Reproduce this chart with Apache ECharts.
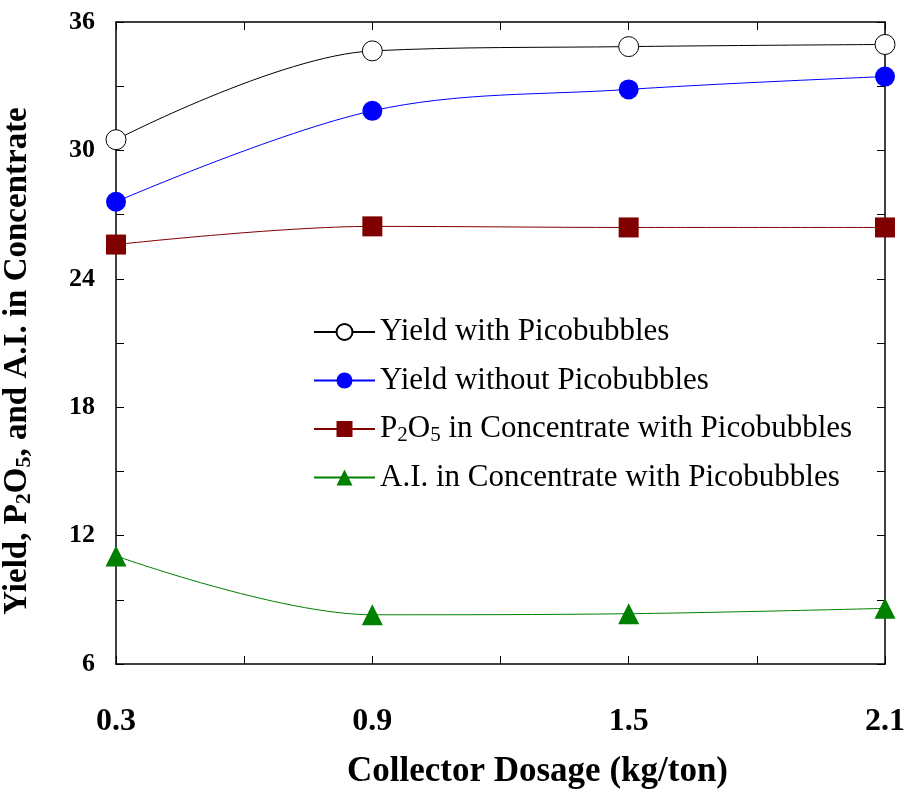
<!DOCTYPE html>
<html>
<head>
<meta charset="utf-8">
<script src="https://cdn.jsdelivr.net/npm/echarts@6/dist/echarts.min.js"></script>
<style>
  html, body { margin: 0; padding: 0; background: #fff; }
  #chart { width: 908px; height: 789px; }
</style>
</head>
<body>
<div id="chart"></div>
<script>
// Collector dosage (kg/ton)
const dosage = [0.3, 0.9, 1.5, 2.1];
// Yield with picobubbles (%)
const yieldWith = [30.5, 34.65, 34.85, 34.95];
// Yield without picobubbles (%)
const yieldWithout = [27.6, 31.85, 32.85, 33.45];
// P2O5 grade in concentrate with picobubbles (%)
const p2o5 = [25.6, 26.45, 26.4, 26.4];
// Acid-insoluble content in concentrate with picobubbles (%)
const acidInsol = [11.05, 8.3, 8.35, 8.6];

const xTickLabels = ['0.3', '0.9', '1.5', '2.1'];
const yTickLabels = ['6', '12', '18', '24', '30', '36'];

const serif = '"Liberation Serif", "Times New Roman", serif';

function pairs(ys) { return dosage.map((x, i) => [x, ys[i]]); }

const chart = echarts.init(document.getElementById('chart'));

const axisLine = { show: true, lineStyle: { color: '#000', width: 1.5 } };
const axisTick = { show: true, inside: true, length: 8, lineStyle: { color: '#000', width: 1 } };

chart.setOption({
  animation: false,
  backgroundColor: '#fff',
  grid: { left: 116, right: 23, top: 22, bottom: 125, containLabel: false, outerBoundsMode: 'none' },
  legend: {
    left: 308,
    top: 310,
    orient: 'vertical',
    itemWidth: 61,
    itemHeight: 20,
    itemGap: 14.5,
    selectedMode: false,
    textStyle: {
      fontFamily: serif, fontSize: 31, color: '#000', lineHeight: 34,
      rich: {
        n: { fontFamily: serif, fontSize: 31, color: '#000', lineHeight: 34 },
        s: { fontFamily: serif, fontSize: 21, color: '#000', lineHeight: 34, padding: [12, 0, 0, 0] }
      }
    },
    formatter: function (name) {
      if (name.indexOf('P2O5') === 0) {
        return '{n|P}{s|2}{n|O}{s|5}{n|' + name.slice(4) + '}';
      }
      return name;
    }
  },
  xAxis: [{
    type: 'value',
    min: 0.3, max: 2.1, interval: 0.3,
    axisLine, axisTick,
    splitLine: { show: false },
    axisLabel: {
      margin: 42,
      fontFamily: serif, fontSize: 32, fontWeight: 'bold', color: '#000',
      formatter: function (v) {
        const t = (Math.round(v * 10) / 10).toFixed(1);
        return xTickLabels.indexOf(t) >= 0 ? t : '';
      }
    },
    name: 'Collector Dosage (kg/ton)',
    nameLocation: 'middle',
    nameGap: 90,
    nameTextStyle: { fontFamily: serif, fontSize: 35, fontWeight: 'bold', color: '#000', padding: [0, 0, 0, 74] }
  }, {
    type: 'value', position: 'top',
    min: 0.3, max: 2.1, interval: 0.3,
    axisLine, axisTick,
    axisLabel: { show: false }, splitLine: { show: false }
  }],
  yAxis: [{
    type: 'value',
    min: 6, max: 36, interval: 3,
    axisLine, axisTick,
    splitLine: { show: false },
    axisLabel: {
      margin: 21,
      fontFamily: serif, fontSize: 26, fontWeight: 'bold', color: '#000',
      formatter: function (v) {
        const t = String(Math.round(v));
        return yTickLabels.indexOf(t) >= 0 ? t : '';
      }
    },
    name: '{b|Yield, P}{s|2}{b|O}{s|5}{b|, and A.I. in Concentrate}',
    nameLocation: 'middle',
    nameGap: 80,
    nameTextStyle: {
      padding: [0, 36, 0, 0],
      rich: {
        b: { fontFamily: serif, fontSize: 33, fontWeight: 'bold', color: '#000', lineHeight: 38 },
        s: { fontFamily: serif, fontSize: 22, fontWeight: 'bold', color: '#000', lineHeight: 38, padding: [14, 0, 0, 0] }
      }
    }
  }, {
    type: 'value', position: 'right',
    min: 6, max: 36, interval: 3,
    axisLine, axisTick,
    axisLabel: { show: false }, splitLine: { show: false }
  }],
  series: [{
    name: 'Yield with Picobubbles',
    type: 'line', smooth: 0.35,
    data: pairs(yieldWith),
    symbol: 'circle', symbolSize: 20,
    lineStyle: { color: '#000', width: 1 },
    itemStyle: { color: '#fff', borderColor: '#000', borderWidth: 1 },
    z: 5
  }, {
    name: 'Yield without Picobubbles',
    type: 'line', smooth: 0.35,
    data: pairs(yieldWithout),
    symbol: 'circle', symbolSize: 20,
    lineStyle: { color: '#0000ff', width: 1 },
    itemStyle: { color: '#0000ff' },
    z: 5
  }, {
    name: 'P2O5 in Concentrate with Picobubbles',
    type: 'line', smooth: 0.35,
    data: pairs(p2o5),
    symbol: 'rect', symbolSize: 20,
    lineStyle: { color: '#800000', width: 1 },
    itemStyle: { color: '#800000' },
    z: 5
  }, {
    name: 'A.I. in Concentrate with Picobubbles',
    type: 'line', smooth: 0.35,
    data: pairs(acidInsol),
    symbol: 'triangle', symbolSize: 21,
    lineStyle: { color: '#008000', width: 1 },
    itemStyle: { color: '#008000' },
    z: 5
  }]
});
</script>
</body>
</html>
